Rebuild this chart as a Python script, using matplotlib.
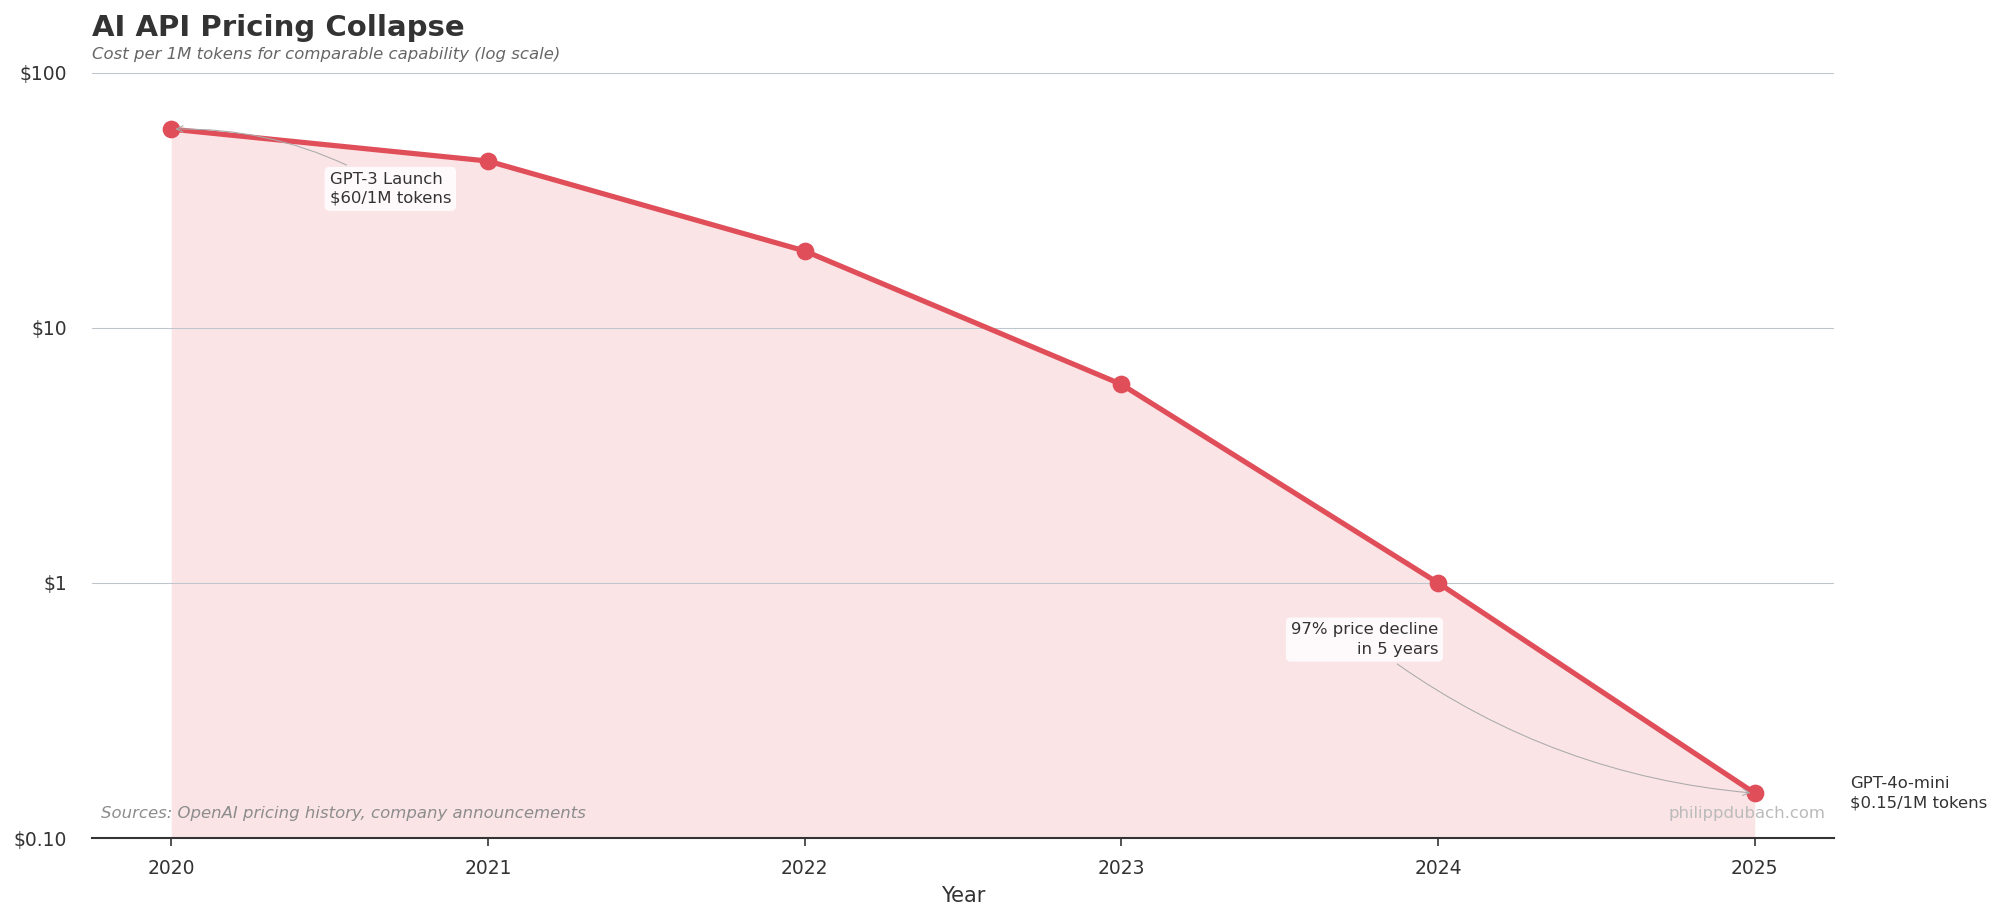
import numpy as np
import matplotlib.pyplot as plt

# Data (cost per 1M tokens, USD)
years = [2020, 2021, 2022, 2023, 2024, 2025]
cost = [60, 45, 20, 6, 1, 0.15]
ytick_vals = [0.1, 1, 10, 100]
ytick_labels = ['$0.10', '$1', '$10', '$100']

red = '#e04f59'
dark = '#333333'

fig = plt.figure(figsize=(13.333, 6.12), dpi=150)
ax = fig.add_axes([0.046, 0.087, 0.871, 0.834])

ax.fill_between(years, cost, 0.1, color=red, alpha=0.15, lw=0, zorder=1)
ax.plot(years, cost, color=red, lw=2.5, marker='o', markersize=7.5, zorder=3)

ax.set_yscale('log')
ax.set_ylim(0.1, 100)
ax.set_xlim(2019.75, 2025.25)
ax.set_yticks(ytick_vals)
ax.set_yticklabels(ytick_labels)
ax.minorticks_off()
ax.set_xticks(years)
ax.tick_params(axis='y', length=0, labelsize=9, colors=dark, pad=12)
ax.tick_params(axis='x', length=4, width=0.8, labelsize=9, colors=dark, pad=6)
ax.set_xlabel('Year', fontsize=10, color=dark, labelpad=4)

ax.grid(axis='y', color='#bfc5cd', lw=0.5, zorder=2)
ax.set_axisbelow(False)
for s in ['top', 'right', 'left']:
    ax.spines[s].set_visible(False)
ax.spines['bottom'].set_color(dark)
ax.spines['bottom'].set_linewidth(1.0)

box = dict(boxstyle='round,pad=0.3', fc='white', ec='none', alpha=0.85)
ax.annotate('GPT-3 Launch\n$60/1M tokens', xy=(2020, 60), xytext=(2020.5, 35),
            fontsize=7.9, color=dark, ha='left', va='center', bbox=box,
            linespacing=1.35,
            arrowprops=dict(arrowstyle='->', color='#aaaaaa', lw=0.5,
                            connectionstyle='arc3,rad=0.15'))
ax.annotate('97% price decline\nin 5 years', xy=(2025, 0.15), xytext=(2024, 0.6),
            fontsize=7.9, color=dark, ha='right', va='center', multialignment='right',
            bbox=box, linespacing=1.35,
            arrowprops=dict(arrowstyle='->', color='#aaaaaa', lw=0.5,
                            connectionstyle='arc3,rad=0.15'))
ax.text(2025.3, 0.15, 'GPT-4o-mini\n$0.15/1M tokens', fontsize=7.9, color=dark,
        ha='left', va='center', linespacing=1.35, clip_on=False)

ax.text(0.005, 0.032, 'Sources: OpenAI pricing history, company announcements',
        transform=ax.transAxes, fontsize=7.9, style='italic', color='#8c8c8c',
        ha='left', va='center')
ax.text(0.995, 0.032, 'philippdubach.com', transform=ax.transAxes, fontsize=7.9,
        color='#bbbbbb', ha='right', va='center')

fig.text(0.046, 0.961, 'AI API Pricing Collapse', fontsize=14, fontweight='bold',
         color=dark, ha='left', va='baseline')
fig.text(0.046, 0.936, 'Cost per 1M tokens for comparable capability (log scale)',
         fontsize=7.9, style='italic', color='#666666', ha='left', va='baseline')

fig.savefig('out.png', dpi=150)
